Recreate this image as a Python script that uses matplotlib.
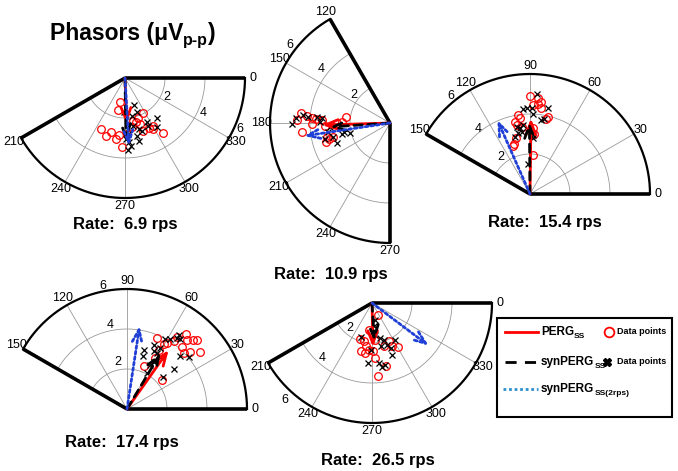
import matplotlib.pyplot as plt
import numpy as np
from matplotlib.patches import Rectangle

plt.rcParams['font.family'] = 'Liberation Sans'

rates = ['6.9', '10.9', '15.4', '17.4', '26.5']
sectors = [(210, 360), (120, 270), (0, 150), (0, 150), (210, 360)]

# phasor data points (real, imag) in uV, PERG (red o) and synPERG (black x)
perg_69 = [(-0.25, -1.18), (-0.37, -1.58), (-1.2, -2.57), (-0.95, -2.9), (-0.7, -2.68),
           (-0.45, -3.07), (-0.3, -2.87), (-0.13, -3.47), (0.92, -1.75), (0.65, -1.98),
           (0.75, -2.3), (1.2, -2.5), (1.42, -2.38), (1.4, -2.55), (1.88, -2.75),
           (0.42, -2.13), (0.08, -2.8), (0.33, -2.47), (0.88, -2.63), (0.55, -2.2)]
syn_69 = [(0.45, -1.33), (-0.05, -1.68), (0.58, -1.72), (0.33, -1.92), (1.58, -2.02),
          (1.08, -2.22), (0.72, -2.55), (0.87, -2.63), (0.62, -2.92), (0.2, -3.18),
          (0.13, -3.58), (0.05, -3.05), (1.62, -2.47), (1.17, -2.38), (0.42, -2.38),
          (0.17, -2.8), (0.72, -3.17), (0.3, -3.38)]

perg_109 = [(-4.45, 0.48), (-4.67, 0.15), (-4.38, -0.43), (-3.92, 0.23), (-3.92, -0.05),
            (-3.7, 0.18), (-3.2, -0.93), (-3.03, -0.82), (-2.83, -0.72), (-3.13, -0.68),
            (-2.2, 0.28), (-2.38, 0.07), (-3.25, -0.15), (-3.42, 0.15), (-2.67, -0.02),
            (-4.17, 0.35)]
syn_109 = [(-4.92, -0.07), (-4.7, 0.23), (-4.33, 0.4), (-4.08, 0.28), (-3.63, 0.32),
           (-3.42, 0.23), (-3.5, 0.07), (-2.67, -1.02), (-2.42, -0.57), (-2.0, -0.48),
           (-2.3, -0.47), (-3.08, -0.43), (-2.83, -0.68), (-3.25, -0.82), (-3.0, -0.18)]

perg_154 = [(0.0, 4.92), (0.42, 4.82), (0.55, 4.62), (0.38, 4.48), (0.55, 4.28),
            (0.13, 4.45), (0.88, 3.87), (0.8, 3.75), (-0.58, 3.95), (-0.5, 3.78),
            (-0.75, 3.62), (-0.63, 3.45), (-0.4, 3.33), (0.17, 3.32), (-0.7, 2.78),
            (-0.8, 2.48), (-0.87, 2.4), (0.17, 1.95), (0.2, 2.98)]
syn_154 = [(0.37, 5.0), (0.12, 4.32), (-0.17, 4.32), (-0.33, 4.25), (0.92, 4.28),
           (0.17, 3.98), (0.53, 3.7), (0.7, 3.75), (-0.67, 3.37), (-0.5, 3.28),
           (-0.33, 3.45), (-0.58, 3.03), (-0.75, 2.87), (-0.42, 3.12), (0.17, 2.95),
           (0.13, 2.78), (-0.08, 1.48)]

perg_174 = [(1.5, 3.53), (1.83, 3.23), (2.0, 3.28), (2.33, 3.42), (2.5, 3.58),
            (2.95, 3.75), (3.0, 3.45), (3.3, 3.45), (3.5, 3.45), (2.75, 3.12),
            (3.13, 2.87), (3.67, 2.83), (2.83, 2.78), (0.87, 2.13), (1.75, 1.45),
            (1.42, 2.53), (1.58, 2.95)]
syn_174 = [(0.83, 2.95), (0.8, 2.65), (1.33, 3.2), (1.37, 2.92), (1.5, 2.78),
           (1.67, 2.62), (1.92, 3.48), (2.17, 3.48), (2.5, 3.53), (2.67, 3.48),
           (2.58, 3.68), (2.67, 2.65), (3.08, 2.58), (2.33, 1.98), (1.78, 1.62),
           (1.33, 2.37), (1.17, 2.2), (1.0, 1.78), (1.63, 3.03)]

perg_265 = [(0.28, -0.62), (-0.13, -1.33), (-0.62, -1.78), (-0.53, -2.42), (-0.28, -2.17),
            (-0.42, -1.92), (-0.17, -2.33), (0.17, -1.83), (0.58, -2.13), (0.83, -1.92),
            (1.0, -2.13), (1.28, -2.2), (0.68, -3.13), (0.28, -3.63), (0.17, -2.75),
            (0.05, -2.42), (-0.33, -2.5)]
syn_265 = [(0.17, -0.83), (0.08, -1.13), (-0.53, -1.72), (0.17, -1.58), (0.42, -1.75),
           (0.62, -1.83), (0.45, -2.17), (0.75, -2.08), (0.97, -2.25), (1.17, -1.87),
           (1.0, -2.58), (-0.22, -3.0), (0.33, -3.0), (0.5, -3.2), (0.63, -3.08),
           (-0.05, -2.33)]

# mean phasors drawn as arrows
perg_vec = [(0.08, -2.3), (-3.4, -0.1), (0.05, 3.78), (2.08, 2.95), (0.05, -2.2)]
syn_vec = [(0.05, -3.1), (-3.0, -0.2), (-0.03, 3.6), (1.67, 2.78), (0.12, -1.9)]
syn2_vec = [(0.2, -3.4), (-4.3, -0.65), (-1.63, 3.7), (0.63, 4.15), (2.83, -2.13)]

perg_pts = [perg_69, perg_109, perg_154, perg_174, perg_265]
syn_pts = [syn_69, syn_109, syn_154, syn_174, syn_265]

W, H = 678, 471
fig = plt.figure(figsize=(W / 100, H / 100), dpi=100)

centers = [(125, 78), (390, 123), (530, 194), (127, 409), (372, 303)]
rlab_ang = [336, 142, 129, 101, 228]
rlab_pos = [[2.3, 4.3, 6.3], [2.3, 4.35, 6.35], [2.35, 4.15, 6.3], [2.4, 4.3, 6.25], [1.65, 3.7, 6.5]]
rate_xy = [(125, 224), (331, 275), (545, 222), (122, 443), (378, 460)]


def panel(i):
    cx, cy = centers[i]
    th0, th1 = sectors[i]
    s = 130
    ax = fig.add_axes([(cx - s) / W, (H - cy - s) / H, 2 * s / W, 2 * s / H])
    ax.set_xlim(-6.5, 6.5)
    ax.set_ylim(-6.5, 6.5)
    ax.axis('off')
    t = np.radians(np.linspace(th0, th1, 300))
    for r in (2, 4):
        ax.plot(r * np.cos(t), r * np.sin(t), color='0.6', lw=0.6, zorder=1)
    ax.plot(6 * np.cos(t), 6 * np.sin(t), color='k', lw=1.6, zorder=2)
    for a in range(th0, th1 + 1, 30):
        ar = np.radians(a)
        if a in (th0, th1):
            ax.plot([0, 6 * np.cos(ar)], [0, 6 * np.sin(ar)], color='k', lw=2.6,
                    solid_capstyle='butt', zorder=2)
        else:
            ax.plot([0, 6 * np.cos(ar)], [0, 6 * np.sin(ar)], color='0.6', lw=0.6, zorder=1)
        ax.text(6.4 * np.cos(ar), 6.4 * np.sin(ar), str(a % 360), ha='center',
                va='center', fontsize=9, clip_on=False)
    ra = np.radians(rlab_ang[i])
    for lab, rp in zip((2, 4, 6), rlab_pos[i]):
        ax.text(rp * np.cos(ra), rp * np.sin(ra), str(lab), ha='center', va='center',
                fontsize=9, clip_on=False)

    p = np.array(perg_pts[i])
    q = np.array(syn_pts[i])
    ax.plot(p[:, 0], p[:, 1], 'o', mfc='none', mec='red', ms=5.5, mew=0.9, zorder=3)
    ax.plot(q[:, 0], q[:, 1], 'x', color='k', ms=5, mew=0.9, zorder=3)

    head = '->,head_length=0.9,head_width=0.35'
    ax.annotate('', xy=perg_vec[i], xytext=(0, 0),
                arrowprops=dict(arrowstyle=head, color='red', lw=2,
                                shrinkA=0, shrinkB=0), zorder=4)
    ax.annotate('', xy=syn_vec[i], xytext=(0, 0),
                arrowprops=dict(arrowstyle=head, color='k', lw=2, linestyle=(0, (3, 2)),
                                shrinkA=0, shrinkB=0), zorder=5)
    ax.annotate('', xy=syn2_vec[i], xytext=(0, 0),
                arrowprops=dict(arrowstyle=head, color='#1f3fd6', lw=2, linestyle=(0, (1, 1)),
                                shrinkA=0, shrinkB=0), zorder=6)


for i in range(5):
    panel(i)

# overlay for title, rate labels and legend, in pixel units
ov = fig.add_axes([0, 0, 1, 1])
ov.set_xlim(0, W)
ov.set_ylim(H, 0)
ov.axis('off')


def sub_text(x, y, main, sub, size, subsize, drop, tail=''):
    # main text on baseline y, subscript baseline lowered by drop pixels
    t1 = ov.text(x, y, main, fontsize=size, fontweight='bold', va='baseline')
    t2 = ov.annotate(sub, xy=(1, y + drop), xycoords=(t1, 'data'), fontsize=subsize,
                     fontweight='bold', va='baseline', ha='left')
    if tail:
        ov.annotate(tail, xy=(1, y), xycoords=(t2, 'data'), fontsize=size,
                    fontweight='bold', va='baseline', ha='left')


sub_text(50, 40, 'Phasors (μV', 'p-p', 16.5, 11.5, 5, tail=')')

for (x, y), r in zip(rate_xy, rates):
    ov.text(x, y, 'Rate:  ' + r + ' rps', fontsize=12, fontweight='bold',
            ha='center', va='center')

ov.add_patch(Rectangle((497, 318), 175, 99, fill=False, lw=1.5, ec='k'))
ov.plot([505, 538], [332, 332], color='red', lw=2)
ov.plot([505, 538], [362, 362], color='k', lw=2, linestyle=(0, (4, 3)))
ov.plot([503, 538], [389, 389], color='#2f8fd0', lw=2, linestyle=(0, (1, 1)))
sub_text(541, 335, 'PERG', 'SS', 8.5, 6, 3)
sub_text(541, 365, 'synPERG', 'SS', 8.5, 6, 3)
sub_text(541, 392, 'synPERG', 'SS(2rps)', 8.5, 6, 3)
ov.plot([609], [332], 'o', mfc='none', mec='red', ms=7, mew=1.3)
ov.plot([607], [362], 'X', color='k', ms=6)
ov.text(617, 332, 'Data points', fontsize=6.5, fontweight='bold', va='center')
ov.text(617, 362, 'Data points', fontsize=6.5, fontweight='bold', va='center')

fig.savefig('out.png', dpi=100)
